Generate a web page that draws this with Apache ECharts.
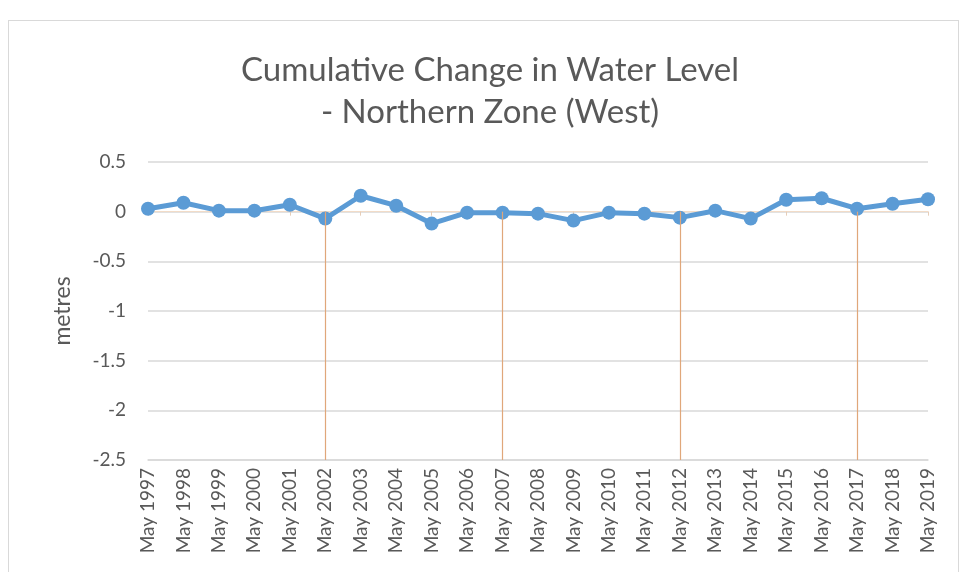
<!DOCTYPE html>
<html>
<head>
<meta charset="utf-8">
<script src="https://cdn.jsdelivr.net/npm/echarts@6/dist/echarts.min.js"></script>
<style>
  html, body { margin: 0; padding: 0; background: #fff; }
  #frame { position: absolute; left: 8px; top: 20px; width: 949px; height: 560px; border: 1px solid #d9d9d9; }
  #chart { position: absolute; left: 0; top: 0; width: 963px; height: 572px; }
</style>
</head>
<body>
<div id="frame"></div>
<div id="chart"></div>
<script>
// years along the bottom
var years = [];
for (var y = 1997; y <= 2019; y++) years.push('May ' + y);
// cumulative change (metres)
var levels = [0.03, 0.09, 0.01, 0.01, 0.07, -0.07, 0.16, 0.06, -0.12, -0.01, -0.01, -0.02,
              -0.09, -0.01, -0.02, -0.06, 0.01, -0.07, 0.12, 0.135, 0.03, 0.08, 0.125];
// orange drop lines every five years
var dropYears = ['May 2002', 'May 2007', 'May 2012', 'May 2017'];
var yTicks = { min: -2.5, max: 0.5, step: 0.5 };

var myChart = echarts.init(document.getElementById('chart'));

var drops = [];
for (var i = 0; i < dropYears.length; i++) {
  drops.push([{ coord: [dropYears[i], 0] }, { coord: [dropYears[i], yTicks.min] }]);
}

var font = 'Lato, "Open Sans", sans-serif';
var option = {
  animation: false,
  title: {
    text: 'Cumulative Change in Water Level\n- Northern Zone (West)',
    left: 485,
    textAlign: 'center',
    top: 44,
    textStyle: { fontFamily: font, fontWeight: 'normal', fontSize: 33, lineHeight: 42, color: '#595959' }
  },
  grid: { left: 148, right: 35, top: 162, bottom: 112 },
  xAxis: [{
    type: 'category',
    data: years,
    boundaryGap: false,
    axisLine: { onZero: false, lineStyle: { color: '#d9d9d9', width: 1.5 } },
    axisTick: { show: false },
    axisLabel: { rotate: 90, interval: 0, fontFamily: font, fontSize: 19, color: '#595959', margin: 8 }
  }, {
    type: 'category',
    data: years,
    boundaryGap: false,
    position: 'bottom',
    axisLine: { onZero: true, lineStyle: { color: '#f2dcc8' } },
    axisTick: { show: true, length: 4, lineStyle: { color: '#e6cdb8' } },
    axisLabel: { show: false }
  }],
  yAxis: {
    type: 'value',
    min: yTicks.min,
    max: yTicks.max,
    interval: yTicks.step,
    name: 'metres',
    nameLocation: 'middle',
    nameGap: 74,
    nameMoveOverlap: false,
    nameTextStyle: { fontFamily: font, fontSize: 23, color: '#595959' },
    axisLine: { show: false },
    axisTick: { show: false },
    axisLabel: { fontFamily: font, fontSize: 19, color: '#595959', margin: 22 },
    splitLine: { lineStyle: { color: '#d9d9d9', width: 1.5 } }
  },
  series: [{
    type: 'line',
    data: levels,
    xAxisIndex: 0,
    symbol: 'circle',
    symbolSize: 14,
    itemStyle: { color: '#5b9bd5' },
    lineStyle: { color: '#5b9bd5', width: 5 },
    markLine: {
      silent: true,
      symbol: 'none',
      label: { show: false },
      lineStyle: { color: '#e0a77a', type: 'solid', width: 1.2 },
      data: drops
    }
  }]
};
myChart.setOption(option);
</script>
</body>
</html>
